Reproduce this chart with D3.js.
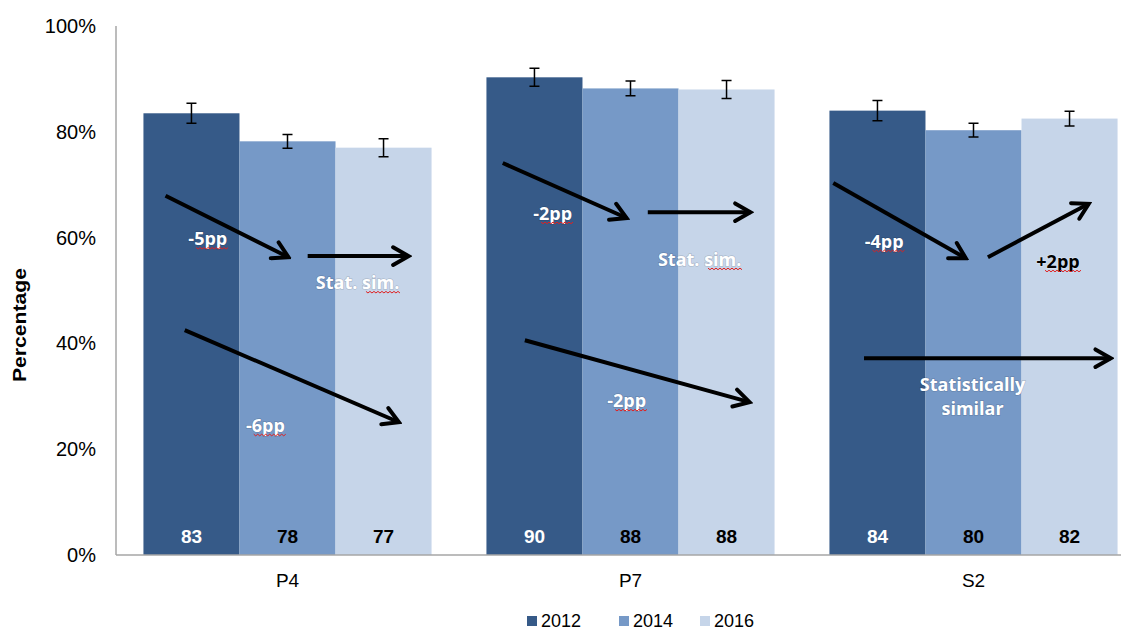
<!DOCTYPE html>
<html><head><meta charset="utf-8">
<script src="https://cdn.jsdelivr.net/npm/d3@7"></script>
<style>body{margin:0;background:#fff}svg{display:block}</style>
</head><body>
<svg id="c" width="1130" height="632"></svg>
<script>
const categories = ["P4","P7","S2"];
const years = ["2012","2014","2016"];
const values2012 = [83.5, 90.3, 84.0];
const values2014 = [78.2, 88.2, 80.3];
const values2016 = [77.0, 88.0, 82.5];
const err2012 = [1.9, 1.7, 1.9];
const err2014 = [1.3, 1.4, 1.3];
const err2016 = [1.7, 1.7, 1.4];
const labels2012 = [83, 90, 84];
const labels2014 = [78, 88, 80];
const labels2016 = [77, 88, 82];
const yTicks = [0, 20, 40, 60, 80, 100];
const colors = ["#365A88", "#7699C7", "#C6D5E9"];
// arrows: category, start (bar units, %), end (bar units, %)
const arrows = [
  ["P4", 0.23, 67.9, 1.51, 56.3], ["P4", 1.71, 56.5, 2.76, 56.5], ["P4", 0.43, 42.5, 2.66, 25.1],
  ["P7", 0.17, 74.1, 1.46, 63.7], ["P7", 1.68, 64.8, 2.75, 64.8], ["P7", 0.40, 40.6, 2.74, 28.9],
  ["S2", 0.04, 70.3, 1.42, 56.1], ["S2", 1.65, 56.3, 2.70, 66.4], ["S2", 0.36, 37.2, 2.93, 37.2]
];
// notes: category, x (bar units), y (%), text, colour
const notes = [
  ["P4", 0.67, 59.7, "-5pp", "#fff"], ["P4", 2.23, 51.4, "Stat. sim.", "#fff"], ["P4", 1.27, 24.4, "-6pp", "#fff"],
  ["P7", 0.69, 64.5, "-2pp", "#fff"], ["P7", 2.22, 55.8, "Stat. sim.", "#fff"], ["P7", 1.46, 29.1, "-2pp", "#fff"],
  ["S2", 0.57, 59.2, "-4pp", "#fff"], ["S2", 2.38, 55.4, "+2pp", "#000"],
  ["S2", 1.49, 32.1, "Statistically", "#fff"], ["S2", 1.49, 27.6, "similar", "#fff"]
];

const svg = d3.select("#c");
const y = d3.scaleLinear().domain([0, 100]).range([555, 26]);
const x0 = d3.scaleBand().domain(categories).range([116, 1145]).paddingInner(0.16).paddingOuter(0.08);
const x1 = d3.scaleBand().domain(years).range([0, x0.bandwidth()]);
const barU = x1.bandwidth();

const series = [values2012, values2014, values2016];
const errs = [err2012, err2014, err2016];
const labs = [labels2012, labels2014, labels2016];

const defs = svg.append("defs");
defs.append("marker").attr("id","ah").attr("viewBox","0 0 20 20").attr("refX",17).attr("refY",10)
  .attr("markerWidth",22).attr("markerHeight",22).attr("markerUnits","userSpaceOnUse").attr("orient","auto")
  .append("path").attr("d","M3,2 L17,10 L3,18").attr("fill","none").attr("stroke","#000")
  .attr("stroke-width",3.6).attr("stroke-linecap","round").attr("stroke-linejoin","miter");

// bars
years.forEach((yr, si) => {
  const g = svg.append("g");
  categories.forEach((c, ci) => {
    const v = series[si][ci];
    const bx = x0(c) + x1(yr);
    g.append("rect").attr("x", bx).attr("y", y(v)).attr("width", barU).attr("height", y(0) - y(v)).attr("fill", colors[si]);
    const cx = bx + barU / 2, e = errs[si][ci];
    g.append("path").attr("d", `M${cx-5},${y(v+e)}H${cx+5}M${cx},${y(v+e)}V${y(v-e)}M${cx-5},${y(v-e)}H${cx+5}`)
      .attr("stroke","#000").attr("stroke-width",1.5).attr("fill","none");
    g.append("text").attr("x", cx).attr("y", y(0) - 12).attr("text-anchor","middle")
      .attr("font-family","Liberation Sans, Arial, sans-serif").attr("font-weight","bold").attr("font-size",19)
      .attr("fill", si === 0 ? "#fff" : "#000").text(labs[si][ci]);
  });
});

// axes
svg.append("line").attr("x1",116).attr("x2",116).attr("y1",y(100)).attr("y2",y(0)).attr("stroke","#A6A6A6").attr("stroke-width",1.5);
svg.append("line").attr("x1",116).attr("x2",1121).attr("y1",y(0)).attr("y2",y(0)).attr("stroke","#A6A6A6").attr("stroke-width",1.5);
svg.append("g").selectAll("text").data(yTicks).join("text")
  .attr("x", 96).attr("y", d => y(d)).attr("dy","0.35em").attr("text-anchor","end")
  .attr("font-family","Liberation Sans, Arial, sans-serif").attr("font-size",20).attr("fill","#000")
  .text(d => d + "%");
svg.append("g").selectAll("text").data(categories).join("text")
  .attr("x", d => x0(d) + x0.bandwidth()/2).attr("y", 587).attr("text-anchor","middle")
  .attr("font-family","Liberation Sans, Arial, sans-serif").attr("font-size",19).attr("fill","#000")
  .text(d => d);
svg.append("text").attr("transform","translate(26,325) rotate(-90)").attr("text-anchor","middle")
  .attr("font-family","Liberation Sans, Arial, sans-serif").attr("font-weight","bold").attr("font-size",18)
  .attr("textLength",114).attr("lengthAdjust","spacingAndGlyphs").text("Percentage");

// arrows
const px = (c, u) => x0(c) + u * barU;
svg.append("g").selectAll("line").data(arrows).join("line")
  .attr("x1", d => px(d[0], d[1])).attr("y1", d => y(d[2]))
  .attr("x2", d => px(d[0], d[3])).attr("y2", d => y(d[4]))
  .attr("stroke","#000").attr("stroke-width",4).attr("marker-end","url(#ah)");

// notes
const ng = svg.append("g");
notes.forEach(d => {
  const t = ng.append("text").attr("x", px(d[0], d[1])).attr("y", y(d[2])).attr("dy","0.35em")
    .attr("text-anchor","middle").attr("font-family","Open Sans, sans-serif").attr("font-weight","bold")
    .attr("font-size",18).attr("fill", d[4])
    .style("paint-order","stroke").attr("stroke", d[4] === "#fff" ? "rgba(0,0,0,0.15)" : "rgba(255,255,255,0.3)").attr("stroke-width",1.5)
    .text(d[3]);
  if (d[3].includes("pp") || d[3].includes("sim.")) {
    const bb = t.node().getBBox();
    const frac = d[3].includes("pp") ? 0.8 : 0.4;
    const x0w = bb.x + bb.width * (1 - frac), x1w = bb.x + bb.width;
    const yy = bb.y + bb.height - 3;
    let p = `M${x0w},${yy}`;
    for (let xx = x0w, k = 0; xx < x1w; xx += 2, k++) p += `L${xx+2},${yy + (k % 2 ? 0 : 1.6)}`;
    ng.append("path").attr("d", p).attr("stroke","#E02020").attr("stroke-width",1).attr("fill","none");
  }
});

// legend
const lg = svg.append("g");
const legX = [527, 619, 700];
years.forEach((yr, i) => {
  lg.append("rect").attr("x", legX[i]).attr("y", 616).attr("width", 10).attr("height", 10).attr("fill", colors[i]);
  lg.append("text").attr("x", legX[i] + 14).attr("y", 621).attr("dy","0.35em")
    .attr("font-family","Liberation Sans, Arial, sans-serif").attr("font-size",18).attr("fill","#000").text(yr);
});
</script>
</body></html>
